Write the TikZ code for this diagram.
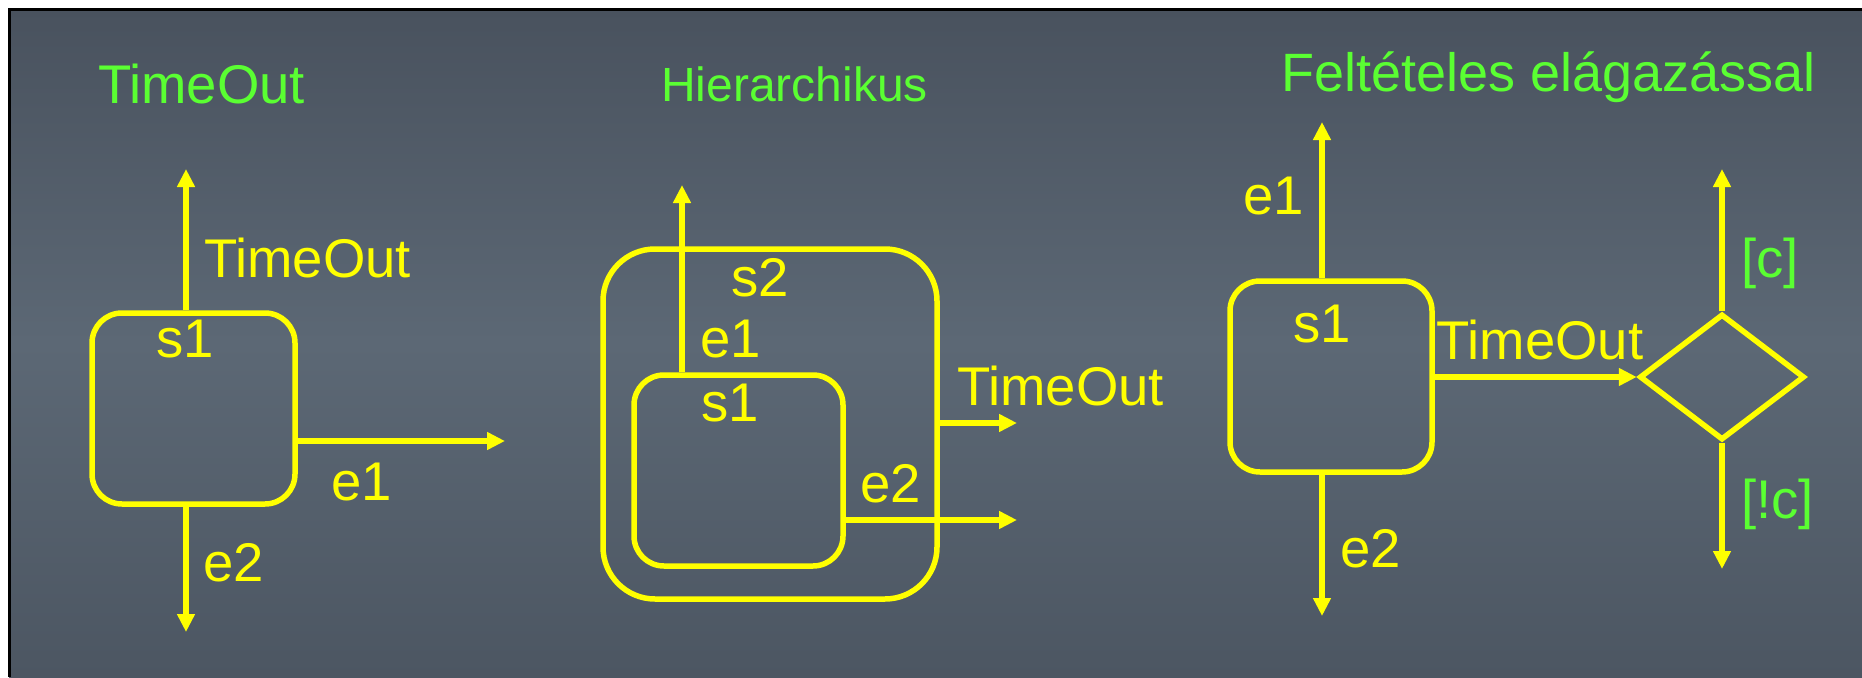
\documentclass[tikz,border=0pt]{standalone}
\usepackage{fontspec}
\setmainfont{Liberation Sans}
\usetikzlibrary{arrows.meta,shapes.geometric}

\definecolor{bgtop}{RGB}{73,82,94}
\definecolor{bgmid}{RGB}{92,104,117}
\definecolor{bgbottom}{RGB}{76,86,98}
\definecolor{stateyellow}{RGB}{255,255,0}
\definecolor{titlegreen}{RGB}{90,255,50}

\tikzset{
  state/.style={draw=stateyellow, line width=5.5pt, rounded corners=30pt,
    minimum width=203pt, minimum height=191pt, inner sep=0pt},
  trans/.style={draw=stateyellow, line width=5.5pt,
    -{Triangle[length=18pt,width=17pt]}},
  lbl/.style={text=stateyellow, font=\fontsize{54.5}{60}\selectfont,
    inner sep=0pt, anchor=base west},
  guard/.style={lbl, text=titlegreen},
  heading/.style={guard},
  choice/.style={diamond, draw=stateyellow, line width=5.5pt, inner sep=0pt,
    minimum width=165pt, minimum height=126pt, aspect=1.3},
}

\begin{document}
\begin{tikzpicture}[x=1pt, y=-1pt]
  \useasboundingbox (0,0) rectangle (1862,677);
  % slide background with its frame
  \fill[white] (0,0) rectangle (1862,677);
  \shade[top color=bgtop, bottom color=bgbottom, middle color=bgmid]
    (9,9) rectangle (1862,677);
  \draw[black, line width=2.6pt] (9.3,677) -- (9.3,9.3) -- (1862,9.3);

  % ---------- TimeOut ----------
  \node[heading] (hA) at (98,103) {TimeOut};
  \node[state] (tA) at (193.5,408.5) {};
  \coordinate (upA) at (186,169);
  \coordinate (rA) at (505,441);
  \coordinate (dnA) at (186,632);
  \draw[trans] (tA.north -| upA) -- (upA);
  \draw[trans] (tA.east |- rA) -- (rA);
  \draw[trans] (tA.south -| dnA) -- (dnA);
  \node[lbl] (lA1) at (204,277) {TimeOut};
  \node[lbl] (lA2) at (156,357) {s1};
  \node[lbl] (lA3) at (331,500) {e1};
  \node[lbl] (lA4) at (203,581) {e2};

  % ---------- Hierarchikus ----------
  \node[heading, font=\fontsize{48}{54}\selectfont] (hB) at (661,101) {Hierarchikus};
  \node[state, rounded corners=52pt, minimum width=334pt, minimum height=350pt]
    (sB) at (770,424) {};
  \node[state, minimum width=209pt] (tB) at (738.5,470.5) {};
  \coordinate (upB) at (682,185);
  \coordinate (toB) at (1017,423);
  \coordinate (e2B) at (1017,520);
  \draw[trans] (tB.north -| upB) -- (upB);
  \draw[trans] (sB.east |- toB) -- (toB);
  \draw[trans] (tB.east |- e2B) -- (e2B);
  \node[lbl] (lB1) at (731,296) {s2};
  \node[lbl] (lB2) at (700,357) {e1};
  \node[lbl] (lB3) at (701,421) {s1};
  \node[lbl] (lB4) at (957,405) {TimeOut};
  \node[lbl] (lB5) at (860,502) {e2};

  % ---------- Feltételes elágazással ----------
  \node[heading, font=\fontsize{54}{60}\selectfont] (hC) at (1281,91) {Feltételes elágazással};
  \node[state, minimum width=202pt] (tC) at (1331,376.5) {};
  \node[choice] (dC) at (1722,377) {};
  \coordinate (e1C) at (1322,122);
  \coordinate (e2C) at (1322,616);
  \coordinate (cUp) at (1722,169);
  \coordinate (cDn) at (1722,569);
  \draw[trans] (tC.north -| e1C) -- (e1C);
  \draw[trans] (tC.south -| e2C) -- (e2C);
  \draw[trans] (tC.east |- dC.west) -- (dC.west);
  \draw[trans] (dC.north) -- (cUp);
  \draw[trans] (dC.south) -- (cDn);
  \node[lbl] (lC1) at (1243,214) {e1};
  \node[lbl] (lC2) at (1293,342) {s1};
  \node[lbl] (lC3) at (1436,359) {TimeOut};
  \node[lbl] (lC4) at (1340,567) {e2};
  \node[guard] (gC1) at (1741,277) {[c]};
  \node[guard] (gC2) at (1741,518) {[!c]};
\end{tikzpicture}
\end{document}
